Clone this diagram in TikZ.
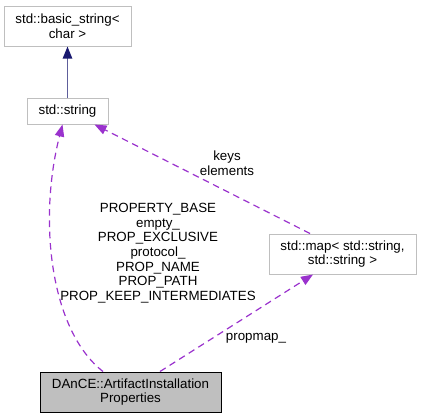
\documentclass[tikz,border=0pt]{standalone}
\usepackage{fontspec}
\setmainfont{Liberation Sans}
\usetikzlibrary{arrows.meta,calc}
\definecolor{boxgray}{HTML}{BFBFBF}
\definecolor{inheritblue}{HTML}{191970}
\definecolor{usageviolet}{HTML}{9A32CD}
\tikzset{
  classbox/.style={draw=boxgray,line width=0.75pt,fill=white,align=center,inner sep=0pt,font=\fontsize{10}{11}\selectfont},
  mainbox/.style={classbox,draw=black,fill=boxgray},
  inherit/.style={draw=inheritblue!70!white,line width=1.1pt,-{Triangle[length=9pt,width=7pt,color=inheritblue]}},
  usage/.style={draw=usageviolet,line width=0.9pt,dash pattern=on 5pt off 3.5pt,-{Triangle[length=9pt,width=7pt,color=usageviolet]}},
  edgelabel/.style={align=center,inner sep=0pt,font=\fontsize{10}{11}\selectfont}
}
\begin{document}
\begin{tikzpicture}[x=0.75pt,y=-0.75pt]
\useasboundingbox (0,0) rectangle (421,419);
\node[classbox,minimum width=95.25pt,minimum height=30pt](basic) at (67.5,26){std::basic\_string<\\char >};
\node[classbox,minimum width=60.75pt,minimum height=19.5pt](str) at (67.5,111){std::string};
\node[classbox,minimum width=110.25pt,minimum height=30pt](map) at (342.5,254){std::map< std::string,\\std::string >};
\node[mainbox,minimum width=135.75pt,minimum height=30pt](dance) at (130.5,392){DAnCE::ArtifactInstallation\\Properties};
%\draw[gray](0,0)grid[step=50](421,419);
\draw[inherit](str.north)--(basic.south);
\draw[usage]($(map.north)+(-32.5,0)$)--($(str.south)+(27,0)$);
\draw[usage]($(dance.north)+(29.5,0)$)--($(map.south)+(-29.5,0)$);
\draw[usage]($(dance.north)+(-27.5,0)$)..controls(50,330)and(38,220)..($(str.south)+(-5,0)$);
\node[edgelabel](keys) at (227,163){keys\\elements};
\node[edgelabel](members) at (158,253){PROPERTY\_BASE\\empty\_\\PROP\_EXCLUSIVE\\protocol\_\\PROP\_NAME\\PROP\_PATH\\PROP\_KEEP\_INTERMEDIATES};
\node[edgelabel](propmap) at (256,338){propmap\_};
\end{tikzpicture}
\end{document}
